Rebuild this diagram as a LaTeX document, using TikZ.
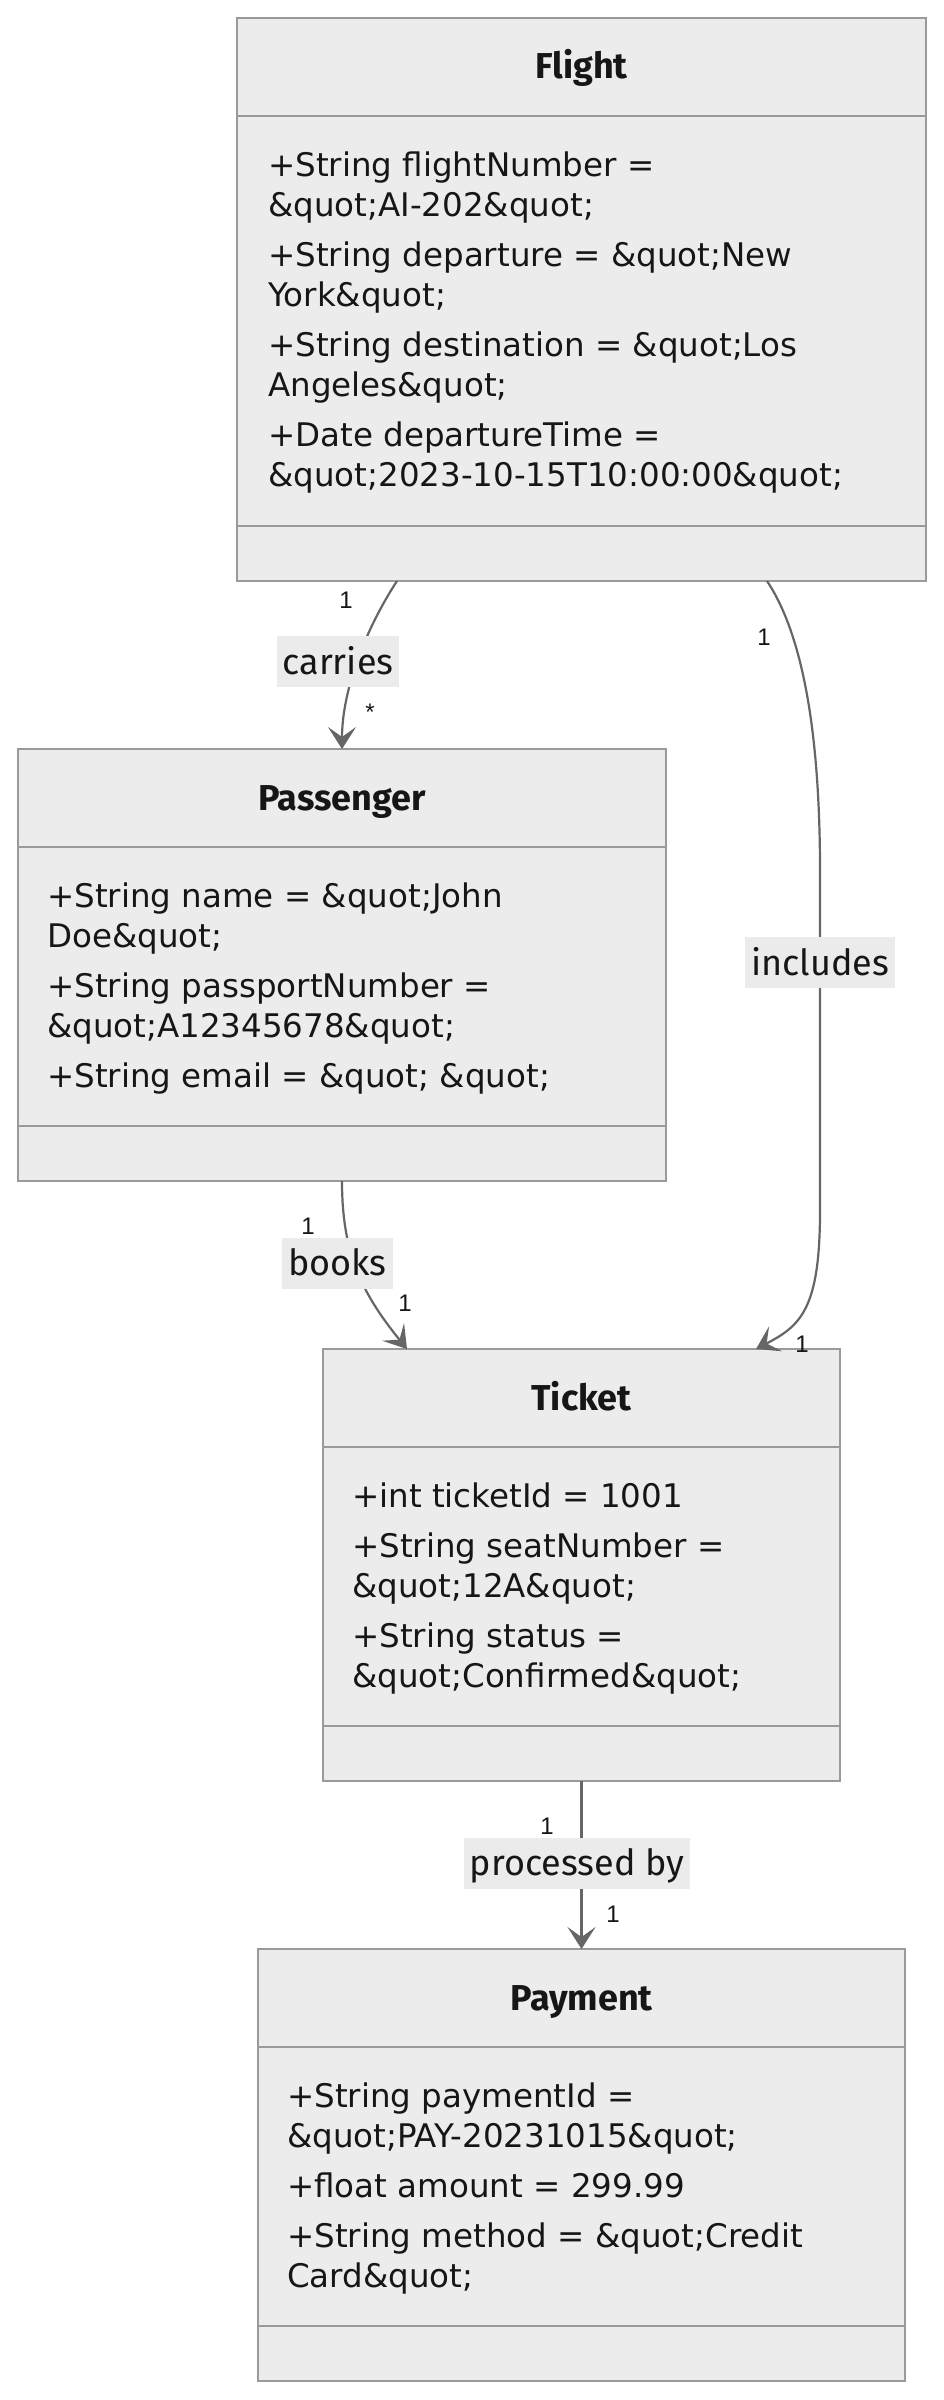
\documentclass[tikz,border=0pt]{standalone}
\usepackage{fontspec}
\setmainfont{Fira Sans}
\newfontfamily\attrfont{DejaVu Sans}
\newfontfamily\multfont{Liberation Sans}
\usetikzlibrary{arrows.meta,positioning}
\definecolor{classfill}{HTML}{ECECEC}
\definecolor{classline}{HTML}{9A9A9A}
\definecolor{edgeline}{HTML}{666666}
\definecolor{labelfill}{HTML}{EBEBEB}
\definecolor{inktext}{HTML}{161616}

\begin{document}
\begin{tikzpicture}[x=1pt,y=1pt,
 classbox/.style={draw=classline,fill=classfill,line width=1.8pt,inner sep=0pt,
   outer sep=0pt,minimum height=432pt},
 divider/.style={draw=classline,line width=1.8pt},
 title/.style={anchor=base,font=\fontsize{36}{40}\selectfont\bfseries,text=inktext},
 attrs/.style={anchor=north west,inner sep=0pt,align=left,
   font=\attrfont\fontsize{32.5}{40}\selectfont,text=inktext},
 assoc/.style={draw=edgeline,line width=2.2pt,
   -{Stealth[length=22pt,width=28pt,inset=10pt]}},
 lbl/.style={fill=labelfill,inner xsep=6pt,inner ysep=0pt,text height=38pt,
   text depth=13pt,font=\fontsize{36}{40}\selectfont,text=inktext},
 mult/.style={font=\multfont\fontsize{24}{26}\selectfont,text=inktext,inner sep=0pt},
 node distance=168pt]
 \useasboundingbox (0,0) rectangle (944,-2400);
 % class boxes
 \node[classbox,minimum width=689pt,minimum height=563pt,anchor=north] (flight) at (581.5,-18) {};
 \node[classbox,minimum width=648pt,below=of flight,xshift=-239.5pt] (passenger) {};
 \node[classbox,minimum width=517pt,below=of passenger,xshift=239.5pt] (ticket) {};
 \node[classbox,minimum width=647pt,below=of ticket] (payment) {};
 \foreach \c in {flight,passenger,ticket,payment} {
   \draw[divider] ([yshift=-98pt]\c.north west) -- ([yshift=-98pt]\c.north east);
   \draw[divider] ([yshift=55pt]\c.south west) -- ([yshift=55pt]\c.south east);
 }
 % titles
 \node[title] (flighttitle) at ([yshift=-61pt]flight.north) {Flight};
 \node[title] (passengertitle) at ([yshift=-61pt]passenger.north) {Passenger};
 \node[title] (tickettitle) at ([yshift=-61pt]ticket.north) {Ticket};
 \node[title] (paymenttitle) at ([yshift=-61pt]payment.north) {Payment};
 % attributes
 \node[attrs] (flightattrs) at ([xshift=31pt,yshift=-130pt]flight.north west)
   {\strut+String flightNumber =\\\&quot;AI-202\&quot;\\[10pt]
    +String departure = \&quot;New\\York\&quot;\\[10pt]
    +String destination = \&quot;Los\\Angeles\&quot;\\[10pt]
    +Date departureTime =\\\&quot;2023-10-15T10:00:00\&quot;};
 \node[attrs] (passengerattrs) at ([xshift=29pt,yshift=-130pt]passenger.north west)
   {\strut+String name = \&quot;John\\Doe\&quot;\\[10pt]
    +String passportNumber =\\\&quot;A12345678\&quot;\\[10pt]
    +String email = \&quot; \&quot;};
 \node[attrs] (ticketattrs) at ([xshift=29pt,yshift=-130pt]ticket.north west)
   {\strut+int ticketId = 1001\\[10pt]
    +String seatNumber =\\\&quot;12A\&quot;\\[10pt]
    +String status =\\\&quot;Confirmed\&quot;};
 \node[attrs] (paymentattrs) at ([xshift=29pt,yshift=-130pt]payment.north west)
   {\strut+String paymentId =\\\&quot;PAY-20231015\&quot;\\[10pt]
    +float amount = 299.99\\[10pt]
    +String method = \&quot;Credit\\Card\&quot;};
 % associations
 \draw[assoc] ([xshift=-184.5pt]flight.south) .. controls +(-32,-49) and +(0,58) .. (passenger.north)
   node[lbl,midway,xshift=-19.5pt] (carrieslbl) {carries}
   node[mult,at start,xshift=-51pt,yshift=-19pt] (carriesfrom) {1}
   node[mult,at end,xshift=28pt,yshift=37pt] (carriesto) {*};
 \draw[assoc] ([xshift=185.5pt]flight.south)
   node[mult,xshift=-3pt,yshift=-56pt] (includesfrom) {1}
   .. controls +(40,-60) and +(0,120) .. ++(53,-290)
   -- ++(0,-340) node[lbl,pos=0.27] (includeslbl) {includes}
   .. controls +(0,-99) and +(44,23) .. ([xshift=174.5pt]ticket.north)
   node[mult,xshift=46pt,yshift=5pt] (includesto) {1};
 \draw[assoc] (passenger.south) .. controls +(0,-70) and +(-47,58) .. ([xshift=-174.5pt]ticket.north)
   node[lbl,midway,xshift=-19.5pt,yshift=6.5pt] (bookslbl) {books}
   node[mult,at start,xshift=-34pt,yshift=-45pt] (booksfrom) {1}
   node[mult,at end,xshift=-2pt,yshift=46pt] (booksto) {1};
 \draw[assoc] (ticket.south) -- (payment.north)
   node[lbl,midway,xshift=-4.5pt,yshift=2pt] (processedlbl) {processed by}
   node[mult,at start,xshift=-34.5pt,yshift=-45pt] (processedfrom) {1}
   node[mult,at end,xshift=31.5pt,yshift=35pt] (processedto) {1};
\end{tikzpicture}
\end{document}
